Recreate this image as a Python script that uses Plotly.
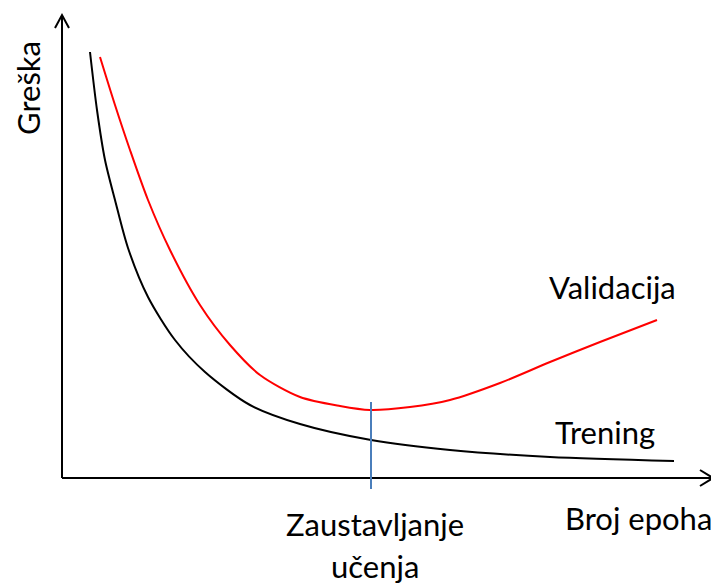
import plotly.graph_objects as go

# Conceptual data (arbitrary units: epochs, error)
train_epochs = [28, 35, 43, 53, 66, 86, 113, 143, 188, 238, 309, 388, 488, 612]
train_error = [426, 368, 318, 278, 230, 181, 138, 106, 73, 54, 38, 28, 21, 17]
val_epochs = [38, 53, 68, 86, 108, 138, 168, 198, 238, 278, 308, 348, 388, 438, 488, 538, 595]
val_error = [421, 373, 328, 278, 228, 173, 133, 103, 81, 72, 68, 71, 78, 95, 116, 136, 158]
stop_epoch = 309

fig = go.Figure()
fig.add_trace(go.Scatter(x=train_epochs, y=train_error, mode="lines",
                         line=dict(color="black", width=2, shape="spline", smoothing=0.8),
                         hoverinfo="skip", showlegend=False))
fig.add_trace(go.Scatter(x=val_epochs, y=val_error, mode="lines",
                         line=dict(color="#ff0000", width=2, shape="spline", smoothing=0.8),
                         hoverinfo="skip", showlegend=False))

ax_col = "black"
shapes = [
    dict(type="line", x0=0, y0=0, x1=0, y1=463, line=dict(color=ax_col, width=2)),
    dict(type="path", path="M -7 450 L 0 463 L 7 450", line=dict(color=ax_col, width=2)),
    dict(type="line", x0=0, y0=0, x1=651, y1=0, line=dict(color=ax_col, width=2)),
    dict(type="path", path="M 638 8 L 651 0 L 638 -8", line=dict(color=ax_col, width=2)),
    dict(type="line", x0=stop_epoch, y0=-11, x1=stop_epoch, y1=76, line=dict(color="#4a7ebb", width=2)),
]

font = dict(family="Lato, Open Sans, sans-serif", size=31, color="black")
annotations = [
    dict(x=-34, y=390, text="Greška", textangle=-90, showarrow=False, font=font),
    dict(x=550, y=191, text="Validacija", showarrow=False, font=font),
    dict(x=543, y=46, text="Trening", showarrow=False, font=font),
    dict(x=576, y=-40, text="Broj epoha", showarrow=False, font=font),
    dict(x=313, y=-46, text="Zaustavljanje", showarrow=False, font=font),
    dict(x=313, y=-88, text="učenja", showarrow=False, font=font),
]

fig.update_layout(
    width=719, height=587,
    margin=dict(l=0, r=0, t=0, b=0),
    paper_bgcolor="white", plot_bgcolor="white",
    xaxis=dict(range=[-54, 665], visible=False, fixedrange=True),
    yaxis=dict(range=[-117, 470], visible=False, fixedrange=True),
    shapes=shapes, annotations=annotations,
)
fig.write_html("out.html")
